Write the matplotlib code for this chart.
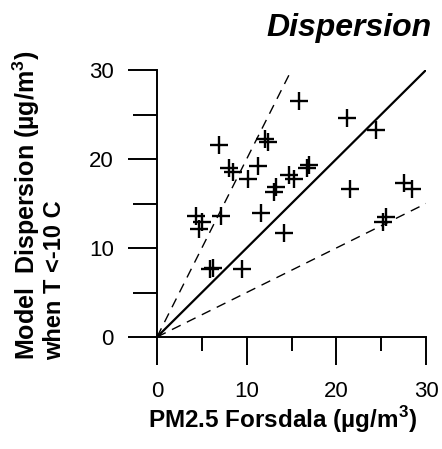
import matplotlib
matplotlib.use("Agg")
import matplotlib.pyplot as plt
from matplotlib.ticker import MultipleLocator

plt.rcParams['font.family'] = ['Liberation Sans', 'DejaVu Sans']
plt.rcParams['mathtext.fontset'] = 'custom'
plt.rcParams['mathtext.rm'] = 'Liberation Sans:bold'
plt.rcParams['mathtext.bf'] = 'Liberation Sans:bold'

# Observed PM2.5 at Forsdala vs modelled dispersion contribution (T < -10 C)
pm25_obs = [15.8, 21.2, 24.4, 6.9, 12.0, 12.4, 8.0, 8.5, 11.3, 10.2,
            13.3, 13.0, 14.7, 15.3, 16.7, 17.0, 4.3, 5.0, 4.7, 7.1,
            11.6, 14.2, 21.5, 27.5, 28.4, 25.5, 25.2, 5.9, 6.3, 9.5]
model_disp = [26.5, 24.6, 23.3, 21.6, 22.2, 21.9, 19.0, 18.5, 19.2, 17.8,
              16.9, 16.3, 18.2, 17.8, 19.0, 19.3, 13.6, 12.9, 12.1, 13.6,
              13.9, 11.7, 16.6, 17.3, 16.6, 13.5, 12.9, 7.6, 7.7, 7.6]

# Reference lines: 1:1, and factor-of-two bounds
ref_x = [0, 30]
one_to_one = [0, 30]
upper_x = [0, 15]
upper_y = [0, 30]
lower_y = [0, 15]

fig = plt.figure(figsize=(4.42, 4.49), dpi=100)
ax = fig.add_axes([157 / 442, 1 - 337 / 449, 269 / 442, 267 / 449])

ax.plot(ref_x, one_to_one, color='black', lw=1.6, solid_capstyle='butt', zorder=2)
ax.plot(upper_x, upper_y, color='black', lw=1.0, dashes=(7, 5), zorder=2)
ax.plot(ref_x, lower_y, color='black', lw=1.0, dashes=(7, 5), zorder=2)
ax.plot(pm25_obs, model_disp, linestyle='none', marker='+', ms=13, mew=1.7,
        color='black', zorder=3, clip_on=False)

ax.set_xlim(0, 30)
ax.set_ylim(0, 30)
for s in ('top', 'right'):
    ax.spines[s].set_visible(False)
for s in ('left', 'bottom'):
    ax.spines[s].set_linewidth(1.4)

ax.xaxis.set_major_locator(MultipleLocator(10))
ax.xaxis.set_minor_locator(MultipleLocator(5))
ax.yaxis.set_major_locator(MultipleLocator(10))
ax.yaxis.set_minor_locator(MultipleLocator(5))
ax.tick_params(axis='x', which='major', direction='out', length=20, width=1.4,
               pad=12, labelsize=16)
ax.tick_params(axis='x', which='minor', direction='out', length=10, width=1.4)
ax.tick_params(axis='y', which='major', direction='out', length=21, width=1.4,
               pad=10, labelsize=16)
ax.tick_params(axis='y', which='minor', direction='out', length=17, width=1.4)

fig.text(283 / 442, 1 - 420 / 449, r'PM2.5 Forsdala (µg/m$^{3}$)',
         ha='center', va='center', fontsize=17.5, fontweight='bold')
fig.text(26 / 442, 1 - 205 / 449, r'Model  Dispersion (µg/m$^{3}$)',
         ha='center', va='center', rotation=90, fontsize=18, fontweight='bold')
fig.text(55 / 442, 1 - 360 / 449, 'when T <-10 C',
         ha='center', va='bottom', rotation=90, fontsize=17, fontweight='bold')
fig.text(432 / 442, 1 - 28 / 449, 'Dispersion', ha='right', va='center',
         fontsize=23, fontweight='bold', fontstyle='italic')

fig.savefig('out.png', dpi=100)
